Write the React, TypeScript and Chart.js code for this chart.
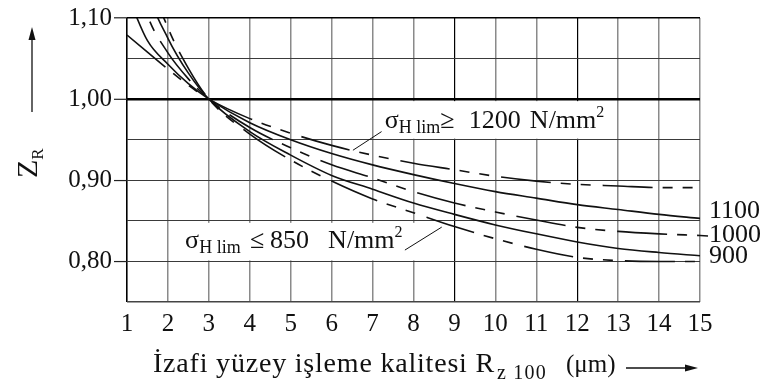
import { useEffect, useRef } from "react";
import { Chart, registerables } from "chart.js";

Chart.register(...registerables);

// Surface roughness Rz100 (µm)
const RZ = [1, 1.5, 2, 2.5, 3, 4, 5, 6, 7, 8, 9, 10, 11, 12, 13, 14, 15];

// Roughness factor Z_R for each σH lim group
const ZR_1200 = [1.079, 1.058, 1.037, 1.017, 1.0, 0.976, 0.958, 0.943, 0.931, 0.921, 0.913, 0.905, 0.899, 0.895, 0.893, 0.891, 0.891];
const ZR_1100 = [1.13, 1.072, 1.043, 1.019, 1.0, 0.971, 0.95, 0.933, 0.919, 0.907, 0.896, 0.886, 0.878, 0.87, 0.864, 0.858, 0.853];
const ZR_1000 = [1.19, 1.103, 1.057, 1.025, 1.0, 0.965, 0.94, 0.919, 0.903, 0.886, 0.872, 0.861, 0.851, 0.842, 0.837, 0.834, 0.832];
const ZR_900 = [1.26, 1.135, 1.075, 1.032, 1.0, 0.96, 0.931, 0.906, 0.889, 0.872, 0.858, 0.845, 0.834, 0.824, 0.816, 0.811, 0.807];
const ZR_850 = [1.3, 1.16, 1.088, 1.038, 1.0, 0.957, 0.925, 0.899, 0.877, 0.86, 0.843, 0.828, 0.815, 0.805, 0.801, 0.8, 0.8];

const Y_TICK_VALUES = [0.8, 0.9, 1.0, 1.1];
const Y_TICK_TEXT = ["0,80", "0,90", "1,00", "1,10"];
const CURVE_LABELS = ["1100", "1000", "900"];

const FONT = '"Liberation Serif", "Times New Roman", serif';
const INK = "#111";
const DASH = [50, 10, 10, 10, 10, 12];

// piece of text placed at an offset from the label's start
type Piece = { t: string; size: number; dx?: number; dy?: number; spacing?: number };

function drawPieces(ctx: CanvasRenderingContext2D, x: number, y: number, pieces: Piece[]) {
  let cx = x;
  for (const p of pieces) {
    ctx.font = `${p.size}px ${FONT}`;
    (ctx as any).letterSpacing = `${p.spacing ?? 0}px`;
    if (p.dx !== undefined) cx = x + p.dx;
    ctx.fillText(p.t, cx, y + (p.dy ?? 0));
    cx += ctx.measureText(p.t).width;
  }
  (ctx as any).letterSpacing = "0px";
  return cx;
}

function line(ctx: CanvasRenderingContext2D, x1: number, y1: number, x2: number, y2: number) {
  ctx.beginPath();
  ctx.moveTo(x1, y1);
  ctx.lineTo(x2, y2);
  ctx.stroke();
}

const near = (a: number, b: number) => Math.abs(a - b) < 1e-6;

const annotations = {
  id: "zrAnnotations",
  beforeDatasetsDraw(chart: any) {
    const { ctx } = chart;
    const x = chart.scales.x;
    const y = chart.scales.y;
    ctx.save();
    ctx.fillStyle = "#fff";
    // label backgrounds hide the vertical grid lines between two horizontal ones
    const boxes = [
      [7.2, 1.0, 12.9, 0.95],
      [2.2, 0.85, 8.75, 0.8],
    ];
    for (const [x1, y1, x2, y2] of boxes) {
      const px1 = x.getPixelForValue(x1);
      const px2 = x.getPixelForValue(x2);
      const py1 = y.getPixelForValue(y1) + 2;
      const py2 = y.getPixelForValue(y2) - 1;
      ctx.fillRect(px1, py1, px2 - px1, py2 - py1);
    }
    ctx.restore();
  },
  afterDatasetsDraw(chart: any) {
    const { ctx, chartArea } = chart;
    const x = chart.scales.x;
    const y = chart.scales.y;
    ctx.save();
    ctx.fillStyle = INK;
    ctx.strokeStyle = INK;
    ctx.textBaseline = "alphabetic";
    ctx.textAlign = "left";

    // σH lim ≥ 1200 label with leader
    drawPieces(ctx, x.getPixelForValue(7.3), y.getPixelForValue(0.9644), [
      { t: "σ", size: 26 },
      { t: "H lim", size: 18, dy: 5 },
      { t: "≥", size: 26 },
      { t: "1200", size: 26, dx: 84 },
      { t: "N/mm", size: 26, dx: 145 },
      { t: "2", size: 16, dy: -11 },
    ]);
    ctx.lineWidth = 1;
    line(ctx, x.getPixelForValue(7.22), y.getPixelForValue(0.96), x.getPixelForValue(6.52), y.getPixelForValue(0.937));

    // σH lim ≤ 850 label with leader
    drawPieces(ctx, x.getPixelForValue(2.42), y.getPixelForValue(0.8164), [
      { t: "σ", size: 26 },
      { t: "H lim", size: 18, dy: 5 },
      { t: "≤", size: 26, dx: 65 },
      { t: "850", size: 26, dx: 85 },
      { t: "N/mm", size: 26, dx: 143 },
      { t: "2", size: 16, dy: -11 },
    ]);
    line(ctx, x.getPixelForValue(7.79), y.getPixelForValue(0.814), x.getPixelForValue(8.69), y.getPixelForValue(0.8423));

    // curve names at the right edge
    ctx.font = `26px ${FONT}`;
    const baselines = [0.8533, 0.8238, 0.798];
    CURVE_LABELS.forEach((txt, i) => {
      ctx.fillText(txt, chartArea.right + 9, y.getPixelForValue(baselines[i]));
    });
    // short lead-out of the 1000 curve to its label
    ctx.lineWidth = 1.4;
    const pyEnd = y.getPixelForValue(ZR_1000[ZR_1000.length - 1]);
    line(ctx, chartArea.right, pyEnd, chartArea.right + 8, pyEnd + 0.5);
    ctx.restore();
  },
  afterDraw(chart: any) {
    const { ctx } = chart;
    ctx.save();
    ctx.fillStyle = INK;
    ctx.strokeStyle = INK;
    ctx.textAlign = "left";
    ctx.textBaseline = "alphabetic";

    // vertical axis title Z_R, reading upwards
    ctx.save();
    ctx.translate(37, 178);
    ctx.rotate(-Math.PI / 2);
    drawPieces(ctx, 0, 0, [
      { t: "Z", size: 30 },
      { t: "R", size: 17, dy: 6 },
    ]);
    ctx.restore();

    // upward arrow
    ctx.lineWidth = 1.3;
    line(ctx, 32, 112, 32, 36);
    ctx.beginPath();
    ctx.moveTo(32, 27);
    ctx.lineTo(28.5, 40);
    ctx.lineTo(35.5, 40);
    ctx.closePath();
    ctx.fill();

    // horizontal axis title
    const rEnd = drawPieces(ctx, 153, 372, [{ t: "İzafi yüzey işleme kalitesi R", size: 28, spacing: 0.8 }]);
    drawPieces(ctx, rEnd + 2, 372, [{ t: "z 100", size: 20, dy: 7, spacing: 1.2 }]);
    drawPieces(ctx, 566, 372, [{ t: "(μm)", size: 25 }]);

    // rightward arrow
    line(ctx, 626, 368, 688, 368);
    ctx.beginPath();
    ctx.moveTo(698, 368);
    ctx.lineTo(685, 364.5);
    ctx.lineTo(685, 371.5);
    ctx.closePath();
    ctx.fill();
    ctx.restore();
  },
};

function series(values: number[]) {
  return RZ.map((x, i) => ({ x, y: values[i] }));
}

export default function App() {
  const canvasRef = useRef<HTMLCanvasElement | null>(null);

  useEffect(() => {
    const canvas = canvasRef.current;
    if (!canvas) return;

    const common = {
      borderColor: INK,
      borderWidth: 1.6,
      pointRadius: 0,
      fill: false,
      cubicInterpolationMode: "monotone" as const,
    };

    const chart = new Chart(canvas, {
      type: "line",
      data: {
        datasets: [
          { ...common, label: "σH lim ≥ 1200", data: series(ZR_1200), borderDash: DASH },
          { ...common, label: "1100", data: series(ZR_1100) },
          { ...common, label: "1000", data: series(ZR_1000), borderDash: DASH },
          { ...common, label: "900", data: series(ZR_900) },
          { ...common, label: "σH lim ≤ 850", data: series(ZR_850), borderDash: DASH },
        ],
      },
      options: {
        animation: false,
        responsive: false,
        devicePixelRatio: 1,
        layout: { padding: { left: 0, top: 18, right: 63, bottom: 0 } },
        plugins: {
          legend: { display: false },
          tooltip: { enabled: false },
        },
        scales: {
          x: {
            type: "linear",
            min: 1,
            max: 15,
            afterFit: (s: any) => {
              s.height = 90;
            },
            border: { display: false },
            grid: {
              drawTicks: false,
              color: (c: any) => {
                const v = c.tick?.value;
                if (near(v, 1) || near(v, 9) || near(v, 12)) return "#000";
                return "#8a8a8a";
              },
              lineWidth: (c: any) => {
                const v = c.tick?.value;
                if (near(v, 1)) return 1.6;
                if (near(v, 9) || near(v, 12)) return 1.2;
                return 1.5;
              },
            },
            ticks: {
              stepSize: 1,
              autoSkip: false,
              maxRotation: 0,
              padding: 7,
              color: INK,
              font: { family: FONT, size: 25 },
              callback: (v: any) => String(v),
            },
          },
          y: {
            type: "linear",
            min: 0.75,
            max: 1.1,
            afterFit: (s: any) => {
              s.width = 127;
            },
            border: { display: false },
            grid: {
              drawTicks: true,
              tickLength: 13,
              tickWidth: 1.2,
              tickColor: (c: any) =>
                Y_TICK_VALUES.some((t) => near(t, c.tick?.value)) ? "#222" : "rgba(0,0,0,0)",
              color: (c: any) => {
                const v = c.tick?.value;
                if (near(v, 1.0) || near(v, 1.1)) return "#000";
                if (near(v, 0.75)) return "#444";
                return "#3a3a3a";
              },
              lineWidth: (c: any) => {
                const v = c.tick?.value;
                if (near(v, 1.0)) return 2.6;
                if (near(v, 1.1) || near(v, 0.75)) return 1.6;
                return 1.1;
              },
            },
            ticks: {
              stepSize: 0.05,
              autoSkip: false,
              padding: 2,
              color: INK,
              font: { family: FONT, size: 25 },
              callback: (v: any) => {
                const i = Y_TICK_VALUES.findIndex((t) => near(t, Number(v)));
                return i >= 0 ? Y_TICK_TEXT[i] : "";
              },
            },
          },
        },
      },
      plugins: [annotations],
    });

    return () => chart.destroy();
  }, []);

  return (
    <div style={{ position: "fixed", left: 0, top: 0, width: 763, height: 392, background: "#fff" }}>
      <canvas ref={canvasRef} width={763} height={392} style={{ display: "block" }} />
    </div>
  );
}
